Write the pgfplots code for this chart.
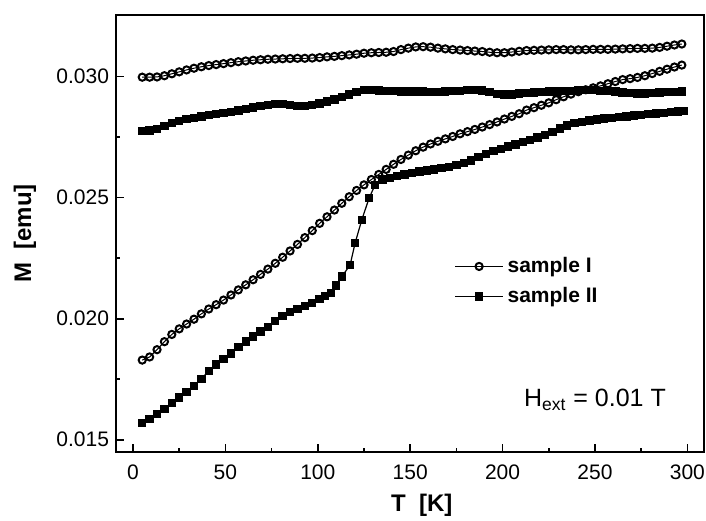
\documentclass[border=0pt]{standalone}
\usepackage{fontspec}
\setmainfont{Liberation Sans}
\usepackage{pgfplots}
\pgfplotsset{compat=1.18}

% sample I (open circles), upper and lower branch
\pgfplotstableread{
T M
5 0.02998
9 0.02998
13 0.02999
17 0.03004
21 0.03012
25 0.03020
29 0.03028
33 0.03035
37 0.03041
41 0.03046
45 0.03050
49 0.03054
53 0.03058
57 0.03062
61 0.03065
65 0.03068
69 0.03070
73 0.03072
77 0.03073
81 0.03074
85 0.03075
89 0.03076
93 0.03076
97 0.03077
101 0.03079
105 0.03082
109 0.03084
113 0.03087
117 0.03090
121 0.03093
125 0.03097
129 0.03099
133 0.03100
137 0.03101
141 0.03104
145 0.03112
149 0.03118
153 0.03123
157 0.03124
161 0.03122
165 0.03118
169 0.03115
173 0.03112
177 0.03110
181 0.03108
185 0.03106
189 0.03104
193 0.03101
197 0.03099
201 0.03099
205 0.03102
209 0.03105
213 0.03108
217 0.03109
221 0.03110
225 0.03111
229 0.03112
233 0.03112
237 0.03111
241 0.03111
245 0.03112
249 0.03113
253 0.03113
257 0.03113
261 0.03114
265 0.03115
269 0.03116
273 0.03117
277 0.03117
281 0.03118
285 0.03121
289 0.03126
293 0.03131
297 0.03135
}\sIup

\pgfplotstableread{
T M
5 0.01829
9 0.01842
13 0.01872
17 0.01905
21 0.01935
25 0.01958
29 0.01978
33 0.01998
37 0.02020
41 0.02040
45 0.02058
49 0.02077
53 0.02098
57 0.02119
61 0.02140
65 0.02161
69 0.02183
73 0.02205
77 0.02229
81 0.02254
85 0.02280
89 0.02307
93 0.02335
97 0.02364
101 0.02394
105 0.02421
109 0.02449
113 0.02477
117 0.02504
121 0.02530
125 0.02553
129 0.02575
133 0.02596
137 0.02617
141 0.02638
145 0.02658
149 0.02676
153 0.02694
157 0.02709
161 0.02722
165 0.02733
169 0.02743
173 0.02753
177 0.02764
181 0.02773
185 0.02782
189 0.02792
193 0.02802
197 0.02813
201 0.02825
205 0.02836
209 0.02847
213 0.02862
217 0.02872
221 0.02882
225 0.02892
229 0.02905
233 0.02917
237 0.02928
241 0.02938
245 0.02946
249 0.02954
253 0.02962
257 0.02971
261 0.02980
265 0.02988
269 0.02992
273 0.02997
277 0.03004
281 0.03013
285 0.03022
289 0.03031
293 0.03040
297 0.03048
}\sIlow

% sample II (filled squares), upper and lower branch
\pgfplotstableread{
T M
5 0.02775
9 0.02778
13 0.02785
17 0.02797
21 0.02808
25 0.02817
29 0.02824
33 0.02830
37 0.02836
41 0.02841
45 0.02846
49 0.02851
53 0.02855
57 0.02860
61 0.02866
65 0.02872
69 0.02878
73 0.02883
77 0.02886
81 0.02886
85 0.02883
89 0.02880
93 0.02879
97 0.02882
101 0.02889
105 0.02898
109 0.02906
113 0.02915
117 0.02926
121 0.02937
125 0.02944
129 0.02945
133 0.02943
137 0.02941
141 0.02940
145 0.02939
149 0.02938
153 0.02938
157 0.02938
161 0.02937
165 0.02937
169 0.02938
173 0.02940
177 0.02942
181 0.02944
185 0.02945
189 0.02943
193 0.02936
197 0.02929
201 0.02926
205 0.02927
209 0.02930
213 0.02933
217 0.02935
221 0.02937
225 0.02938
229 0.02939
233 0.02940
237 0.02942
241 0.02944
245 0.02945
249 0.02944
253 0.02942
257 0.02940
261 0.02938
265 0.02935
269 0.02932
273 0.02930
277 0.02931
281 0.02933
285 0.02935
289 0.02936
293 0.02937
297 0.02938
}\sIIup

\pgfplotstableread{
T M
5 0.01568
9 0.01585
13 0.01605
17 0.01628
21 0.01652
25 0.01675
29 0.01698
33 0.01722
37 0.01752
41 0.01783
45 0.01810
49 0.01833
53 0.01857
57 0.01882
61 0.01905
65 0.01927
69 0.01947
73 0.01965
77 0.01990
81 0.02012
85 0.02028
89 0.02040
93 0.02053
97 0.02066
101 0.02082
104 0.02094
107 0.02106
110 0.02138
113 0.02174
117.5 0.02222
120.2 0.02313
123.8 0.02408
127.8 0.02499
131 0.02553
135 0.02575
139 0.02582
143 0.02589
147 0.02596
151 0.02603
155 0.02608
159 0.02612
163 0.02617
167 0.02622
171 0.02628
175 0.02635
179 0.02643
183 0.02654
187 0.02667
191 0.02680
195 0.02692
199 0.02702
203 0.02711
207 0.02720
211 0.02729
215 0.02738
219 0.02749
223 0.02760
227 0.02772
231 0.02786
235 0.02798
239 0.02808
243 0.02814
247 0.02819
251 0.02823
255 0.02827
259 0.02830
263 0.02833
267 0.02836
271 0.02839
275 0.02842
279 0.02845
283 0.02848
287 0.02851
291 0.02854
295 0.02857
298 0.02858
}\sIIlow

\begin{document}
\begin{tikzpicture}
\begin{axis}[
  width=294pt, height=218.5pt, scale only axis,
  xmin=-9.2, xmax=309, ymin=0.014493, ymax=0.03255,
  xtick={0,50,...,300}, ytick={0.015,0.020,0.025,0.030},
  minor tick num=1,
  xtick pos=bottom, ytick pos=left,
  tick align=inside,
  major tick length=4pt, minor tick length=2pt,
  every tick/.style={black, line width=0.8pt},
  axis line style={line width=0.9pt},
  scaled y ticks=false,
  /pgf/number format/assume math mode=true,
  ticklabel style={font=\fontsize{10.5}{12}\selectfont},
  xticklabel style={yshift=-3pt},
  yticklabel style={/pgf/number format/.cd, fixed, fixed zerofill, precision=3},
  xlabel={T\ \ [K]}, ylabel={M\ \ [emu]},
  label style={font=\bfseries\fontsize{12}{14}\selectfont},
  xlabel style={at={(axis description cs:0.52,-0.121)}, anchor=center},
  ylabel style={at={(axis description cs:-0.155,0.5)}, anchor=center},
  clip=false,
  legend style={draw=none, fill=none, at={(axis description cs:0.565,0.39)}, anchor=west,
    font=\bfseries\fontsize{10.5}{12}\selectfont, row sep=2pt},
  legend cell align=left,
  legend image code/.code={\draw[mark repeat=2, mark phase=2] plot coordinates {(0cm,0cm) (0.42cm,0cm) (0.84cm,0cm)};},
  sI/.style={black, line width=0.5pt, mark=o, mark size=1.8pt, mark options={solid, fill=white, line width=1pt}},
  sII/.style={black, line width=0.6pt, mark=square*, mark size=1.8pt, mark options={solid, fill=black}},
]
\addplot[sI] table[x=T, y=M] {\sIup};
\addplot[sI, forget plot] table[x=T, y=M] {\sIlow};
\addplot[sII] table[x=T, y=M] {\sIIup};
\addplot[sII, forget plot] table[x=T, y=M] {\sIIlow};
\legend{sample I, sample II}
\node[font=\fontsize{12.5}{14}\selectfont] at (axis cs:250,0.01664) {H\textsubscript{ext} = 0.01 T};
\coordinate (bbsw) at (rel axis cs:-0.1973,-0.1579);
\coordinate (bbne) at (rel axis cs:1.0034,1.0343);
\end{axis}
\pgfresetboundingbox
\path (bbsw) rectangle (bbne);
\end{tikzpicture}
\end{document}
